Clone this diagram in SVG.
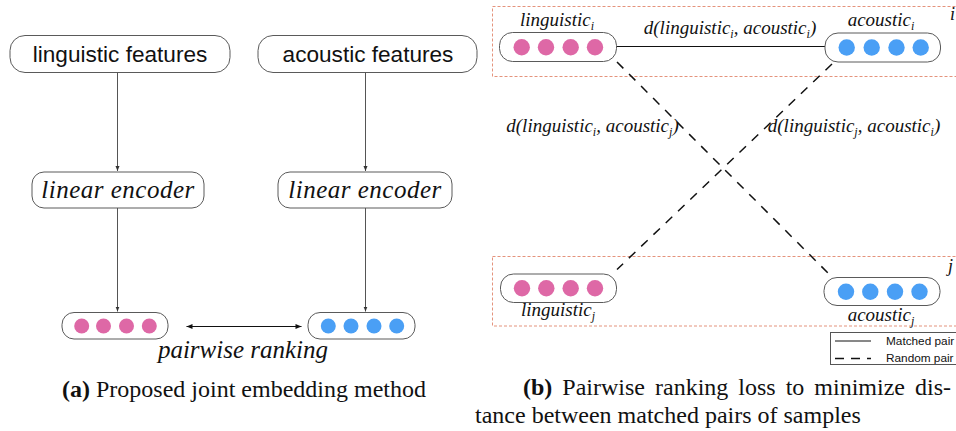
<svg xmlns="http://www.w3.org/2000/svg" width="956" height="431" viewBox="0 0 956 431">
  <defs>
    <style>
      .box { fill: #ffffff; stroke: #5a5a5a; stroke-width: 1; }
      .sans { font-family: "Liberation Sans", Arial, sans-serif; fill: #111; }
      .ital { font-family: "Liberation Serif", "Times New Roman", serif; font-style: italic; fill: #111; }
      .serif { font-family: "Liberation Serif", "Times New Roman", serif; fill: #111; }
      .pink { fill: #de68a6; }
      .blue { fill: #4a9ff5; }
      .flow { stroke: #555; stroke-width: 1; fill: none; }
      .group { fill: none; stroke: #e4937c; stroke-width: 1; stroke-dasharray: 3 2; }
      .random { stroke: #111; stroke-width: 1.5; fill: none; stroke-dasharray: 9 8; }
      .matched { stroke: #111; stroke-width: 1; fill: none; }
    </style>
    <marker id="arr" viewBox="0 0 10 10" refX="10" refY="5" markerWidth="5" markerHeight="5" orient="auto-start-reverse" markerUnits="userSpaceOnUse">
      <path d="M0,1 L10,5 L0,9 Z" fill="#333"/>
    </marker>
    <marker id="arr2" viewBox="0 0 10 10" refX="10" refY="5" markerWidth="7" markerHeight="6" orient="auto-start-reverse" markerUnits="userSpaceOnUse">
      <path d="M0,1 L10,5 L0,9 Z" fill="#111"/>
    </marker>
  </defs>
  <rect width="956" height="431" fill="#ffffff"/>

  <!-- (a) joint embedding pipeline -->
  <g id="ling-features">
    <rect class="box" x="10" y="35.5" width="220" height="37" rx="15"/>
    <text class="sans" x="120" y="62" font-size="22.6" text-anchor="middle">linguistic features</text>
  </g>
  <g id="ac-features">
    <rect class="box" x="258" y="35.5" width="219" height="37" rx="15"/>
    <text class="sans" x="368" y="62" font-size="22.6" text-anchor="middle">acoustic features</text>
  </g>
  <g id="ling-encoder">
    <rect class="box" x="32" y="172" width="172" height="36" rx="12"/>
    <text class="ital" x="118" y="198" font-size="25" text-anchor="middle" letter-spacing="0.5">linear encoder</text>
  </g>
  <g id="ac-encoder">
    <rect class="box" x="278" y="172" width="174" height="36" rx="12"/>
    <text class="ital" x="365" y="198" font-size="25" text-anchor="middle" letter-spacing="0.5">linear encoder</text>
  </g>
  <g id="ling-embedding">
    <rect class="box" x="62" y="312.5" width="106" height="26.5" rx="12"/>
    <circle class="pink" cx="81.7" cy="326" r="7.5"/>
    <circle class="pink" cx="103.5" cy="326" r="7.5"/>
    <circle class="pink" cx="126.5" cy="326" r="7.5"/>
    <circle class="pink" cx="149.3" cy="326" r="7.5"/>
  </g>
  <g id="ac-embedding">
    <rect class="box" x="308" y="312.5" width="107" height="26.5" rx="12"/>
    <circle class="blue" cx="328.3" cy="326" r="7.5"/>
    <circle class="blue" cx="351" cy="326" r="7.5"/>
    <circle class="blue" cx="374" cy="326" r="7.5"/>
    <circle class="blue" cx="396.7" cy="326" r="7.5"/>
  </g>
  <g id="flow-connectors">
    <line class="flow" x1="117.5" y1="72.5" x2="117.5" y2="171" marker-end="url(#arr)"/>
    <line class="flow" x1="365.5" y1="72.5" x2="365.5" y2="171" marker-end="url(#arr)"/>
    <line class="flow" x1="117.5" y1="208" x2="117.5" y2="311.5" marker-end="url(#arr)"/>
    <line class="flow" x1="365.5" y1="208" x2="365.5" y2="311.5" marker-end="url(#arr)"/>
    <line stroke="#111" stroke-width="1" x1="186.5" y1="326.5" x2="301.5" y2="326.5" marker-start="url(#arr2)" marker-end="url(#arr2)"/>
  </g>
  <text class="ital" x="243" y="357.5" font-size="25" text-anchor="middle">pairwise ranking</text>
  <text class="serif" x="244" y="396.5" font-size="24" text-anchor="middle"><tspan font-weight="bold">(a)</tspan> Proposed joint embedding method</text>

  <!-- (b) pairwise ranking loss -->
  <g id="pair-i">
    <rect class="group" x="492.5" y="6.5" width="470" height="70"/>
    <text class="ital" x="950" y="20" font-size="18">i</text>
  </g>
  <g id="pair-j">
    <rect class="group" x="492.5" y="256.5" width="470" height="69.5"/>
    <text class="ital" x="948" y="272" font-size="18">j</text>
  </g>

  <g id="ranking-connectors">
    <line class="matched" x1="617" y1="46.5" x2="825" y2="46.5"/>
    <line class="random" x1="617" y1="62" x2="829" y2="274"/>
    <line class="random" x1="832" y1="64" x2="617" y2="269.5"/>
  </g>

  <g id="ling-i">
    <rect class="box" x="499.5" y="32.5" width="117" height="29" rx="13"/>
    <circle class="pink" cx="521.7" cy="47.3" r="8.2"/>
    <circle class="pink" cx="546" cy="47.3" r="8.2"/>
    <circle class="pink" cx="570.7" cy="47.3" r="8.2"/>
    <circle class="pink" cx="595" cy="47.3" r="8.2"/>
    <text class="ital" x="557" y="25.5" font-size="19" text-anchor="middle">linguistic<tspan font-size="12" dy="4">i</tspan></text>
  </g>
  <g id="ac-i">
    <rect class="box" x="825" y="33" width="115.5" height="29" rx="13"/>
    <circle class="blue" cx="846.7" cy="47.5" r="8.2"/>
    <circle class="blue" cx="871.7" cy="47.5" r="8.2"/>
    <circle class="blue" cx="896.5" cy="47.5" r="8.2"/>
    <circle class="blue" cx="920.7" cy="47.5" r="8.2"/>
    <text class="ital" x="881" y="25.5" font-size="19" text-anchor="middle">acoustic<tspan font-size="12" dy="4">i</tspan></text>
  </g>
  <g id="ling-j">
    <rect class="box" x="500.5" y="274" width="116" height="28.5" rx="13"/>
    <circle class="pink" cx="522" cy="288.3" r="8.2"/>
    <circle class="pink" cx="546.3" cy="288.3" r="8.2"/>
    <circle class="pink" cx="570.7" cy="288.3" r="8.2"/>
    <circle class="pink" cx="595" cy="288.3" r="8.2"/>
    <text class="ital" x="558" y="316" font-size="19" text-anchor="middle">linguistic<tspan font-size="12" dy="4">j</tspan></text>
  </g>
  <g id="ac-j">
    <rect class="box" x="824" y="277.5" width="116" height="28" rx="13"/>
    <circle class="blue" cx="846" cy="291.7" r="8.2"/>
    <circle class="blue" cx="870.3" cy="291.7" r="8.2"/>
    <circle class="blue" cx="895" cy="291.7" r="8.2"/>
    <circle class="blue" cx="919.5" cy="291.7" r="8.2"/>
    <text class="ital" x="881" y="320.5" font-size="19" text-anchor="middle">acoustic<tspan font-size="12" dy="4">j</tspan></text>
  </g>

  <!-- distance labels -->
  <text class="ital" x="730" y="34" font-size="19" text-anchor="middle">d(linguistic<tspan font-size="12" dy="4">i</tspan><tspan dy="-4">, acoustic</tspan><tspan font-size="12" dy="4">i</tspan><tspan dy="-4">)</tspan></text>
  <text class="ital" x="592.5" y="131.5" font-size="19" text-anchor="middle">d(linguistic<tspan font-size="12" dy="4">i</tspan><tspan dy="-4">, acoustic</tspan><tspan font-size="12" dy="4">j</tspan><tspan dy="-4">)</tspan></text>
  <text class="ital" x="854" y="131.5" font-size="19" text-anchor="middle">d(linguistic<tspan font-size="12" dy="4">j</tspan><tspan dy="-4">, acoustic</tspan><tspan font-size="12" dy="4">i</tspan><tspan dy="-4">)</tspan></text>

  <g id="legend">
    <rect x="830.5" y="332.5" width="140" height="32" fill="#ffffff" stroke="#555" stroke-width="1"/>
    <line class="matched" x1="835" y1="341" x2="871" y2="341"/>
    <line stroke="#111" stroke-width="1.5" stroke-dasharray="9 7" x1="835" y1="358.5" x2="871" y2="358.5"/>
    <text class="sans" x="886" y="345" font-size="11.8">Matched pair</text>
    <text class="sans" x="886" y="362" font-size="11.8">Random pair</text>
  </g>

  <text class="serif" x="523" y="394.5" font-size="24" word-spacing="4"><tspan font-weight="bold">(b)</tspan> Pairwise ranking loss to minimize dis-</text>
  <text class="serif" x="475" y="423" font-size="24">tance between matched pairs of samples</text>
</svg>
